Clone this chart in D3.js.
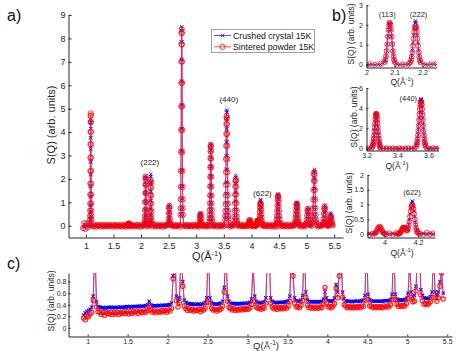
<!DOCTYPE html>
<html>
<head>
<meta charset="utf-8">
<script src="https://cdn.jsdelivr.net/npm/d3@7"></script>
<style>
body { margin: 0; background: #fff; }
svg { display: block; font-family: "Liberation Sans", Arial, Helvetica, sans-serif; }
</style>
</head>
<body>
<svg id="fig" width="463" height="351"></svg>
<script>
// ---------- data ----------
var seriesNames = ['Crushed crystal 15K', 'Sintered powder 15K'];

// background-subtracted S(Q), baseline sampled every 0.02 from Q = 0.95
var baseQ0 = 0.95, baseStep = 0.02;
var baseBlue = [-.05,.06,-.04,.04,0,.05,0,.02,.01,0,
 .01,0,-.01,.01,0,.01,0,-.01,.01,0, 0,.01,0,-.01,.01,0,0,.01,-.01,0,
 .01,0,0,-.01,.01,0,.01,0,-.01,.01, 0,.01,0,0,-.01,.01,0,.01,0,-.01,
 .01,0,.01,0,-.01,0,.01,0,.01,0, 0,-.01,.01,0,.01,0,-.01,0,.01,0,
 .01,0,-.01,.01,0,0,.01,-.01,0,.01, 0,.01,0,-.01,0,.01,0,.01,-.01,0,
 .01,0,.01,0,-.01,.01,0,0,.01,-.01, 0,.01,-.01,0,.01,0,.01,-.01,0,.01,
 .01,0,0,.01,-.01,0,.01,0,-.01,.01, 0,-.01,.01,0,0,.01,-.01,.01,0,0,
 .01,0,-.01,.01,0,.01,0,-.01,0,.01, 0,.01,0,0,.01,-.01,0,.01,.01,0,
 -.01,.01,0,.01,0,0,-.01,.01,0,.01, 0,0,.01,-.01,.01,0,.01,0,-.01,0,
 .01,-.01,0,.01,0,.01,0,-.01,.01,0, 0,.01,.01,0,-.01,0,.01,0,.01,-.01,
 .01,0,-.01,.01,0,.01,-.01,0,.01,0, 0,.01,0,-.01,.01,0,.01,.01,0,-.01,
 .01,0,.01,0,-.01,.01,0,0,.01,.01, 0,-.01,.01,0,.01,0];
var baseRed = [-.1,.12,-.14,.08,-.06,.1,.02,.03,-.02,.04,
 -.03,.02,-.04,.03,-.01,.04,-.03,.02,-.02,.03, -.02,.04,-.03,.01,.03,-.02,.02,-.04,.03,-.01,
 .02,-.03,.04,-.02,.01,-.03,.03,-.01,.02,-.04, .03,-.02,.02,-.03,.04,-.01,.02,-.03,.01,.03,
 -.02,.03,-.04,.02,-.01,.03,-.03,.04,-.02,.01, .03,-.02,.02,-.03,.01,.04,-.02,.02,-.03,.03,
 -.01,.02,-.04,.03,-.02,.01,.03,-.03,.02,-.02, .04,-.01,.02,-.03,.03,-.02,.01,.03,-.04,.02,
 -.02,.03,-.01,.02,-.03,.04,-.02,.01,-.03,.03, .02,-.03,.03,-.01,.02,-.04,.03,-.02,.01,.02,
 -.03,.04,-.02,.02,-.01,.03,-.03,.02,-.02,.04, -.01,.02,-.03,.03,-.02,.01,.04,-.03,.02,-.01,
 .03,-.02,.02,-.04,.03,-.01,.02,-.03,.04,-.02, .01,.03,-.03,.02,-.01,.04,-.02,.02,-.03,.01,
 .03,-.02,.04,-.01,.02,-.03,.03,-.02,.01,-.04, .02,.03,-.02,.01,-.03,.04,-.01,.02,-.02,.03,
 -.03,.02,.01,-.04,.03,-.02,.02,-.01,.04,-.03, .02,-.01,.03,-.02,.02,-.03,.04,-.02,.01,.02,
 -.02,.04,-.03,.01,.03,-.02,.02,-.04,.03,-.01, .02,-.03,.04,-.02,.01,-.03,.03,-.01,.02,-.02,
 .03,-.01,.02,-.04,.03,-.02,.01,.04,-.03,.02, -.02,.03,-.01,.02,-.03,.01];

// Bragg peaks: centre, sampling step, profile values (centred on peakQ)
var peakQ = [1.0875, 1.776, 2.083, 2.175, 2.511, 2.737, 3.076, 3.263, 3.552, 3.715, 3.971, 4.14, 4.484, 4.823, 5.023, 5.139, 5.327, 5.437];
var peakStep = [0.0012, 0.0048, 0.00225, 0.00225, 0.00432, 0.0018, 0.0048, 0.002, 0.0024, 0.0036, 0.00576, 0.004, 0.0042, 0.0045, 0.0072, 0.0045, 0.0072, 0.0072];
var peakBlue = [
 [.25,.40,.61,.89,1.25,1.69,2.19,2.73,3.27,3.76,4.15,4.41,4.5,4.41,4.15,3.76,3.27,2.73,2.19,1.69,1.25,.89,.61,.40,.25],
 [.01,.02,.04,.08,.11,.12,.11,.08,.04,.02,.01],
 [.12,.23,.42,.69,1.03,1.41,1.77,2.03,2.12,2.03,1.77,1.41,1.03,.69,.42,.23,.12],
 [.12,.24,.44,.72,1.07,1.47,1.84,2.10,2.2,2.10,1.84,1.47,1.07,.72,.44,.24,.12],
 [.05,.14,.32,.57,.80,.9,.80,.57,.32,.14,.05],
 [.48,.76,1.15,1.68,2.36,3.19,4.14,5.16,6.17,7.10,7.85,8.33,8.5,8.33,7.85,7.10,6.17,5.16,4.14,3.19,2.36,1.68,1.15,.76,.48],
 [.03,.09,.19,.35,.49,.55,.49,.35,.19,.09,.03],
 [.20,.31,.47,.69,.97,1.31,1.70,2.12,2.54,2.92,3.23,3.43,3.5,3.43,3.23,2.92,2.54,2.12,1.70,1.31,.97,.69,.47,.31,.20],
 [.28,.44,.67,.98,1.38,1.86,2.41,3.00,3.59,4.13,4.57,4.85,4.95,4.85,4.57,4.13,3.59,3.00,2.41,1.86,1.38,.98,.67,.44,.28],
 [.12,.24,.43,.70,1.05,1.43,1.80,2.06,2.15,2.06,1.80,1.43,1.05,.70,.43,.24,.12],
 [.01,.04,.08,.15,.21,.24,.21,.15,.08,.04,.01],
 [0,.01,.02,.04,.07,.11,.16,.21,.24,.25,.23,.20,.16,.14,.15,.20,.32,.48,.68,.88,1.04,1.12,1.09,.97,.78,.58,.39,.23,.13,.06,.03],
 [.08,.15,.27,.44,.66,.90,1.13,1.29,1.35,1.29,1.13,.90,.66,.44,.27,.15,.08],
 [.06,.11,.20,.33,.49,.67,.84,.96,1.0,.96,.84,.67,.49,.33,.20,.11,.06],
 [.04,.12,.28,.49,.69,.78,.69,.49,.28,.12,.04],
 [.13,.26,.48,.78,1.17,1.60,2.00,2.29,2.4,2.29,2.00,1.60,1.17,.78,.48,.26,.13],
 [.05,.14,.31,.56,.78,.88,.78,.56,.31,.14,.05],
 [.03,.09,.19,.35,.49,.55,.49,.35,.19,.09,.03]
];
var peakRed = [
 [.27,.43,.65,.95,1.33,1.80,2.34,2.91,3.48,4.01,4.43,4.70,4.8,4.70,4.43,4.01,3.48,2.91,2.34,1.80,1.33,.95,.65,.43,.27],
 [.01,.02,.04,.06,.09,.1,.09,.06,.04,.02,.01],
 [.12,.23,.42,.68,1.02,1.40,1.75,2.01,2.1,2.01,1.75,1.40,1.02,.68,.42,.23,.12],
 [.11,.21,.39,.63,.95,1.30,1.63,1.86,1.95,1.86,1.63,1.30,.95,.63,.39,.21,.11],
 [.05,.13,.30,.54,.76,.85,.76,.54,.30,.13,.05],
 [.47,.75,1.13,1.66,2.34,3.15,4.09,5.10,6.10,7.01,7.75,8.23,8.4,8.23,7.75,7.01,6.10,5.10,4.09,3.15,2.34,1.66,1.13,.75,.47],
 [.03,.08,.18,.32,.45,.5,.45,.32,.18,.08,.03],
 [.19,.31,.47,.68,.96,1.29,1.68,2.09,2.50,2.88,3.18,3.38,3.45,3.38,3.18,2.88,2.50,2.09,1.68,1.29,.96,.68,.47,.31,.19],
 [.26,.42,.63,.93,1.31,1.76,2.29,2.85,3.41,3.92,4.34,4.61,4.7,4.61,4.34,3.92,3.41,2.85,2.29,1.76,1.31,.93,.63,.42,.26],
 [.11,.22,.40,.65,.97,1.33,1.67,1.91,2.0,1.91,1.67,1.33,.97,.65,.40,.22,.11],
 [.01,.04,.09,.16,.22,.25,.22,.16,.09,.04,.01],
 [0,.01,.02,.03,.06,.10,.14,.19,.21,.22,.20,.17,.14,.12,.13,.18,.28,.42,.60,.77,.91,.98,.95,.85,.69,.50,.34,.20,.11,.06,.03],
 [.07,.14,.26,.42,.63,.87,1.09,1.24,1.3,1.24,1.09,.87,.63,.42,.26,.14,.07],
 [.05,.10,.19,.31,.46,.63,.79,.91,.95,.91,.79,.63,.46,.31,.19,.10,.05],
 [.04,.11,.25,.45,.64,.72,.64,.45,.25,.11,.04],
 [.13,.25,.46,.75,1.12,1.53,1.92,2.20,2.3,2.20,1.92,1.53,1.12,.75,.46,.25,.13],
 [.05,.13,.29,.52,.73,.82,.73,.52,.29,.13,.05],
 [.02,.07,.15,.27,.37,.42,.37,.27,.15,.07,.02]
];

// raw S(Q) for panel c, sampled every 0.02 from Q = 0.95
var rawQ0 = 0.95, rawStep = 0.02;
var rawBlue = [.22,.26,.28,.30,.32,.36,.55,1.5,.45,.37,
 .36,.35,.35,.34,.35,.35,.35,.36,.35,.35, .35,.36,.35,.36,.35,.36,.36,.37,.36,.37,
 .36,.37,.37,.37,.37,.38,.37,.37,.38,.38, .40,.46,.40,.38,.38,.38,.38,.39,.38,.39,
 .39,.39,.39,.40,.40,.43,.9,1.5,.55,.46, .52,1.5,.8,.48,.44,.42,.42,.41,.41,.41,
 .40,.41,.41,.40,.41,.42,.44,.52,1.5,.52, .44,.42,.41,.41,.41,.42,.43,.46,.7,1.5,
 .55,.46,.43,.42,.42,.42,.41,.42,.42,.42, .42,.43,.42,.43,.44,.50,1.2,.55,.46,.44,
 .43,.43,.44,.45,.52,1.3,1.5,.52,.46,.44, .44,.43,.44,.44,.44,.44,.45,.45,.47,.55,
 1.5,1.0,.52,.47,.46,.46,.48,.56,1.5,.62, .48,.46,.45,.45,.45,.45,.45,.45,.45,.46,
 .50,.62,.52,.47,.46,.46,.47,.52,.75,.62, 1.0,1.5,.62,.50,.47,.46,.46,.46,.45,.46,
 .46,.46,.46,.46,.47,.48,.56,1.5,.58,.49, .47,.46,.46,.46,.46,.46,.46,.46,.47,.47,
 .47,.47,.49,.58,1.5,.58,.50,.48,.48,.48, .48,.49,.51,.60,1.2,.62,.54,.56,.72,1.5,
 1.5,.66,.56,.52,.51,.51,.51,.54,.62,1.3, .62,.56,.62,.8,1.0,.6];
var rawRed = [.17,.14,.20,.19,.24,.27,.48,1.5,.36,.28,
 .27,.23,.26,.22,.27,.25,.24,.27,.23,.26, .24,.27,.23,.26,.25,.28,.25,.28,.24,.28,
 .25,.28,.26,.29,.25,.29,.27,.26,.29,.27, .30,.38,.31,.27,.29,.26,.29,.28,.27,.30,
 .28,.30,.27,.31,.29,.34,.85,1.5,.47,.36, .44,1.5,.72,.38,.33,.30,.33,.30,.32,.29,
 .31,.30,.32,.28,.32,.31,.34,.44,1.5,.43, .34,.31,.32,.29,.32,.31,.33,.38,.62,1.5,
 .46,.35,.34,.31,.33,.30,.32,.31,.33,.31, .33,.32,.33,.32,.35,.41,1.1,.46,.36,.34,
 .34,.32,.35,.34,.43,1.2,1.5,.43,.36,.33, .35,.32,.35,.33,.35,.33,.36,.34,.38,.46,
 1.5,.9,.43,.36,.37,.35,.39,.47,1.5,.53, .39,.35,.36,.34,.36,.34,.36,.34,.36,.35,
 .41,.70,.43,.36,.37,.35,.38,.42,.68,.52, .9,1.5,.53,.40,.38,.35,.37,.35,.36,.35,
 .37,.35,.37,.35,.38,.37,.47,1.5,.49,.38, .38,.35,.37,.35,.37,.35,.37,.35,.38,.36,
 .38,.36,.40,.49,1.5,.49,.41,.37,.39,.37, .39,.38,.42,.51,1.15,.53,.45,.46,.64,1.5,
 1.5,.57,.47,.41,.42,.40,.42,.45,.53,1.25, .53,.46,.52,.72,.95,.5];

var ticksA_x = [1, 1.5, 2, 2.5, 3, 3.5, 4, 4.5, 5, 5.5];
var ticksA_y = [0, 1, 2, 3, 4, 5, 6, 7, 8, 9];
var ticksB1_x = [2, 2.1, 2.2], ticksB1_y = [0, 1, 2, 3];
var ticksB2_x = [3.2, 3.4, 3.6], ticksB2_y = [0, 2, 4, 6];
var ticksB3_x = [4, 4.2], ticksB3_y = [0, 0.5, 1, 1.5, 2];
var ticksC_y = [0, 0.2, 0.4, 0.6, 0.8];

// ---------- build the series ----------
function buildSeries(base, peaks) {
  var pts = [];
  var spans = peaks.map(function(v, k) { return (v.length - 1) / 2 * peakStep[k]; });
  base.forEach(function(s, i) {
    var q = baseQ0 + i * baseStep;
    var inside = peakQ.some(function(c, k) { return Math.abs(q - c) <= spans[k] + 1e-9; });
    if (!inside) pts.push([q, s]);
  });
  peaks.forEach(function(vals, k) {
    var mid = (vals.length - 1) / 2;
    vals.forEach(function(s, j) { pts.push([peakQ[k] + (j - mid) * peakStep[k], s]); });
  });
  pts.sort(function(a, b) { return a[0] - b[0]; });
  return pts;
}
var crushed = buildSeries(baseBlue, peakBlue);
var sintered = buildSeries(baseRed, peakRed);
var crushedRaw = rawBlue.map(function(s, i) { return [rawQ0 + i * rawStep, s]; });
var sinteredRaw = rawRed.map(function(s, i) { return [rawQ0 + i * rawStep, s]; });

var svg = d3.select('#fig');
var axisColor = '#262626';

function xMarks(pts, x, y, r) {
  var s = '';
  pts.forEach(function(d) {
    var px = x(d[0]), py = y(d[1]);
    s += 'M' + (px - r) + ',' + (py - r) + 'l' + 2 * r + ',' + 2 * r + 'm0,' + (-2 * r) + 'l' + (-2 * r) + ',' + 2 * r;
  });
  return s;
}

function superQ(g, cx, cy, fs) {
  var t = g.append('text').attr('x', cx).attr('y', cy).attr('text-anchor', 'middle')
    .attr('font-size', fs).attr('fill', axisColor);
  t.append('tspan').text('Q(Å');
  t.append('tspan').attr('dy', -fs * 0.38).attr('font-size', fs * 0.68).text('-1');
  t.append('tspan').attr('dy', fs * 0.38).text(')');
}

function yTitle(g, cx, cy, fs) {
  g.append('text').attr('transform', 'translate(' + cx + ',' + cy + ') rotate(-90)')
    .attr('text-anchor', 'middle').attr('dominant-baseline', 'central')
    .attr('font-size', fs).attr('fill', axisColor).text('S(Q) (arb. units)');
}

function drawPanel(p, blue, red) {
  var x = d3.scaleLinear().domain(p.xDom).range(p.xRange);
  var y = d3.scaleLinear().domain(p.yDom).range(p.yRange);
  var g = svg.append('g');
  svg.append('clipPath').attr('id', 'clip-' + p.id).append('rect')
    .attr('x', p.xRange[0]).attr('y', p.yRange[1])
    .attr('width', p.xRange[1] - p.xRange[0]).attr('height', p.yRange[0] - p.yRange[1]);
  var plot = g.append('g').attr('clip-path', 'url(#clip-' + p.id + ')');
  var lo = p.xDom[0] - 0.05, hi = p.xDom[1] + 0.05;
  var b = blue.filter(function(d) { return d[0] >= lo && d[0] <= hi; });
  var r = red.filter(function(d) { return d[0] >= lo && d[0] <= hi; });
  var line = d3.line().x(function(d) { return x(d[0]); }).y(function(d) { return y(d[1]); });
  var sw = p.sw || 0.9;

  plot.append('path').datum(b).attr('d', line).attr('fill', 'none')
    .attr('stroke', '#2222ff').attr('stroke-width', 0.7);
  plot.append('path').attr('d', xMarks(b, x, y, 1.7)).attr('fill', 'none')
    .attr('stroke', '#0000ff').attr('stroke-width', sw - 0.1);
  plot.append('path').datum(r).attr('d', line).attr('fill', 'none')
    .attr('stroke', '#ff2020').attr('stroke-width', 0.7);
  plot.selectAll('circle').data(r).enter().append('circle')
    .attr('cx', function(d) { return x(d[0]); })
    .attr('cy', function(d) { return y(d[1]); })
    .attr('r', p.mr).attr('fill', 'none')
    .attr('stroke', '#ff0000').attr('stroke-opacity', 0.85).attr('stroke-width', sw);

  var fmt = function(d) { return d; };
  var ax = g.append('g').attr('transform', 'translate(0,' + p.yRange[0] + ')')
    .call(d3.axisBottom(x).tickValues(p.xTicks).tickSizeInner(-p.tick).tickSizeOuter(0)
      .tickPadding(p.xPad).tickFormat(fmt));
  var ay = g.append('g').attr('transform', 'translate(' + p.xRange[0] + ',0)')
    .call(d3.axisLeft(y).tickValues(p.yTicks).tickSizeInner(-p.tick).tickSizeOuter(0)
      .tickPadding(p.yPad).tickFormat(fmt));
  [ax, ay].forEach(function(a) {
    a.attr('font-size', p.fs).attr('font-family', null);
    a.selectAll('path, line').attr('stroke', axisColor);
    a.selectAll('text').attr('fill', axisColor);
  });
  return { x: x, y: y, g: g };
}

// ---------- panel a ----------
var pa = drawPanel({ id: 'a', xDom: [0.685, 5.66], xRange: [68.5, 343], yDom: [-0.5, 9], yRange: [237.5, 15],
  xTicks: ticksA_x, yTicks: ticksA_y, tick: 3, fs: 9, xPad: 5, yPad: 3, mr: 2.6 }, crushed, sintered);
yTitle(svg, 51, 125, 11);
superQ(svg, 207, 260, 11);

// legend
var lg = svg.append('g').attr('font-size', 8.7);
lg.append('rect').attr('x', 211.5).attr('y', 29.5).attr('width', 103).attr('height', 23)
  .attr('fill', '#fff').attr('stroke', '#8c8c8c').attr('stroke-width', 0.8);
seriesNames.forEach(function(name, i) {
  var cy = 35.5 + i * 11.3;
  var row = lg.append('g');
  row.append('line').attr('x1', 214).attr('x2', 231).attr('y1', cy).attr('y2', cy)
    .attr('stroke', i === 0 ? '#2222ff' : '#ff2020').attr('stroke-width', 0.8);
  if (i === 0) {
    row.append('path').attr('d', 'M220.8,' + (cy - 1.7) + 'l3.4,3.4m0,-3.4l-3.4,3.4')
      .attr('stroke', '#0000ff').attr('stroke-width', 0.8);
  } else {
    row.append('circle').attr('cx', 222.5).attr('cy', cy).attr('r', 2.6)
      .attr('fill', 'none').attr('stroke', '#ff0000').attr('stroke-width', 0.8);
  }
  row.append('text').attr('x', 233).attr('y', cy).attr('dominant-baseline', 'central')
    .attr('fill', '#111').text(name);
});

// peak indices on panel a
var hklA = ['(222)', '(440)', '(622)'];
var hklA_q = [2.16, 3.59, 4.2];
var hklA_s = [2.72, 5.41, 1.4];
hklA.forEach(function(t, i) {
  svg.append('text').attr('x', pa.x(hklA_q[i])).attr('y', pa.y(hklA_s[i]))
    .attr('text-anchor', 'middle').attr('dominant-baseline', 'central')
    .attr('font-size', 8).attr('fill', '#222').text(t);
});

// ---------- panel b ----------
var pb1 = drawPanel({ id: 'b1', xDom: [2, 2.25], xRange: [366.5, 436.5], yDom: [-0.15, 3], yRange: [67.5, 5],
  xTicks: ticksB1_x, yTicks: ticksB1_y, tick: 2, fs: 7, xPad: 2.5, yPad: 3.5, mr: 2.5 }, crushed, sintered);
var pb2 = drawPanel({ id: 'b2', xDom: [3.2, 3.665], xRange: [366.5, 438.5], yDom: [-0.2, 6], yRange: [150.5, 88],
  xTicks: ticksB2_x, yTicks: ticksB2_y, tick: 2, fs: 7, xPad: 2.5, yPad: 3.5, mr: 2.5 }, crushed, sintered);
var pb3 = drawPanel({ id: 'b3', xDom: [3.9, 4.3], xRange: [367.5, 435], yDom: [-0.12, 2], yRange: [237.5, 175],
  xTicks: ticksB3_x, yTicks: ticksB3_y, tick: 2, fs: 7, xPad: 2.5, yPad: 3.5, mr: 2.5 }, crushed, sintered);
yTitle(svg, 351, 34, 8.5);
yTitle(svg, 354, 117, 8.5);
yTitle(svg, 349, 203, 8.5);
superQ(svg, 402, 84.5, 8.5);
superQ(svg, 397, 168.5, 8.5);
superQ(svg, 402, 255.5, 8.5);

var hklB = ['(113)', '(222)', '(440)', '(622)'];
var hklB_q = [2.074, 2.186, 3.47, 4.164];
var hklB_s = [2.54, 2.54, 5.0, 1.42];
var hklB_p = [pb1, pb1, pb2, pb3];
hklB.forEach(function(t, i) {
  var p = hklB_p[i];
  svg.append('text').attr('x', p.x(hklB_q[i])).attr('y', p.y(hklB_s[i]))
    .attr('text-anchor', 'middle').attr('dominant-baseline', 'central')
    .attr('font-size', 7.5).attr('fill', '#222').text(t);
});

// ---------- panel c ----------
drawPanel({ id: 'c', xDom: [0.76, 5.56], xRange: [68.5, 452], yDom: [-0.15, 0.95], yRange: [336.5, 273],
  xTicks: ticksA_x, yTicks: ticksC_y, tick: 2, fs: 7, xPad: 2.5, yPad: 2, mr: 2.2, sw: 1.15 }, crushedRaw, sinteredRaw);
yTitle(svg, 51, 301, 8.5);
superQ(svg, 266, 349, 9.5);

// panel letters
[['a)', 7, 21], ['b)', 332, 21], ['c)', 7, 269]].forEach(function(l) {
  svg.append('text').attr('x', l[1]).attr('y', l[2]).attr('font-size', 16).attr('fill', '#111').text(l[0]);
});
</script>
</body>
</html>
